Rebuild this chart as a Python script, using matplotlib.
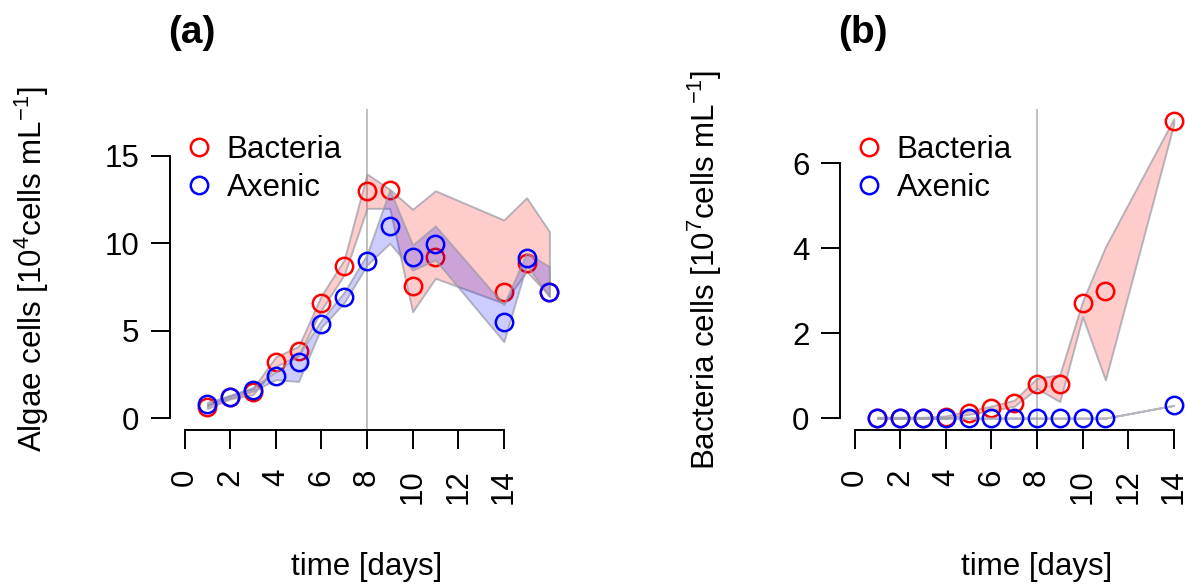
import matplotlib
matplotlib.use("Agg")
import matplotlib.pyplot as plt
from matplotlib.lines import Line2D

plt.rcParams['font.family'] = ['Liberation Sans', 'DejaVu Sans']
plt.rcParams['mathtext.fontset'] = 'custom'
plt.rcParams['mathtext.rm'] = 'Liberation Sans'
plt.rcParams['mathtext.it'] = 'Liberation Sans:italic'
plt.rcParams['mathtext.bf'] = 'Liberation Sans:bold'

# ---- data ----
# (a) algae cells [10^4 cells/mL]
days_a = [1, 2, 3, 4, 5, 6, 7, 8, 9, 10, 11, 14, 15, 16]
algae_bact = [0.66, 1.2, 1.52, 3.23, 3.85, 6.6, 8.72, 13.0, 13.05, 7.58, 9.2, 7.23, 8.9, 7.2]
algae_bact_hi = [0.75, 1.3, 1.7, 3.5, 4.1, 7.0, 9.05, 13.96, 13.08, 11.94, 13.0, 11.33, 12.6, 10.67]
algae_bact_lo = [0.55, 1.1, 1.35, 2.95, 3.6, 6.2, 8.2, 12.0, 12.0, 6.09, 8.0, 6.57, 8.4, 7.0]
algae_axen = [0.82, 1.23, 1.62, 2.42, 3.2, 5.39, 6.91, 9.0, 11.0, 9.2, 9.94, 5.52, 9.14, 7.2]
algae_axen_hi = [0.9, 1.3, 1.75, 2.65, 3.6, 5.6, 7.2, 9.35, 13.05, 9.9, 10.99, 6.48, 9.43, 8.67]
algae_axen_lo = [0.7, 1.15, 1.55, 2.2, 2.1, 5.2, 6.6, 8.76, 10.0, 8.47, 9.05, 4.38, 8.76, 6.95]

# (b) bacteria cells [10^7 cells/mL]
days_b = [1, 2, 3, 4, 5, 6, 7, 8, 9, 10, 11, 14]
bact_bact = [0, 0, 0, 0.02, 0.13, 0.23, 0.35, 0.8, 0.8, 2.7, 2.99, 6.99]
bact_bact_hi = [0.02, 0.02, 0.02, 0.05, 0.17, 0.28, 0.42, 0.94, 1.02, 2.75, 4.03, 7.05]
bact_bact_lo = [0, 0, 0, 0, 0.09, 0.18, 0.28, 0.7, 0.39, 2.39, 0.9, 6.93]
bact_axen = [0, 0, 0, 0, 0, 0, 0, 0, 0, 0, 0, 0.3]
bact_axen_hi = [0, 0, 0, 0, 0, 0, 0, 0, 0, 0, 0, 0.3]
bact_axen_lo = [0, 0, 0, 0, 0, 0, 0, 0, 0, 0, 0, 0.3]

xticks = [0, 2, 4, 6, 8, 10, 12, 14]
yticks_a = [0, 5, 10, 15]
yticks_b = [0, 2, 4, 6]

W, H = 1185, 584
fig = plt.figure(figsize=(W / 100, H / 100), dpi=100)

# plot regions in pixels (left, top, right, bottom); panel b runs off the right edge like the original
def add_ax(l, t, r, b):
    return fig.add_axes([l / W, 1 - b / H, (r - l) / W, (b - t) / H])

ax_a = add_ax(170, 109, 564, 430)
ax_b = add_ax(840, 109, 1234, 430)

red_fill = (1, 0, 0, 0.2)
blue_fill = (0, 0, 1, 0.2)
edge = (0.6, 0.6, 0.65, 0.7)
ms = 12.5
mew = 1.8
fs = 22.5


def panel(ax, days, b, b_hi, b_lo, a, a_hi, a_lo, ylim, yticks, ylab, xlab_y, ylab_x):
    ax.axvline(8, color='#BBBBBB', lw=1.3, zorder=0)
    ax.fill_between(days, b_lo, b_hi, facecolor=red_fill, edgecolor=edge, lw=1.4, zorder=1)
    ax.plot(days, b, ls='none', marker='o', mfc='none', mec='red', ms=ms, mew=mew, zorder=2)
    ax.fill_between(days, a_lo, a_hi, facecolor=blue_fill, edgecolor=edge, lw=1.4, zorder=3)
    ax.plot(days, a, ls='none', marker='o', mfc='none', mec='blue', ms=ms, mew=mew, zorder=4,
            clip_on=False)
    ax.set_xlim(-0.64, 16.64)
    ax.set_ylim(*ylim)
    for s in ['top', 'right']:
        ax.spines[s].set_visible(False)
    ax.spines['bottom'].set_bounds(xticks[0], xticks[-1])
    ax.spines['left'].set_bounds(yticks[0], yticks[-1])
    for s in ['bottom', 'left']:
        ax.spines[s].set_linewidth(1.4)
    ax.set_xticks(xticks)
    ax.set_yticks(yticks)
    ax.tick_params(axis='both', direction='out', length=14, width=1.4, labelsize=fs)
    ax.tick_params(axis='x', labelrotation=90, pad=14)
    ax.tick_params(axis='y', pad=8)
    ax.set_xlabel('time [days]', fontsize=fs)
    ax.xaxis.label.set_va('center')
    ax.xaxis.set_label_coords(0.5, xlab_y)
    ax.set_ylabel(ylab, fontsize=fs)
    ax.yaxis.label.set_va('center')
    ax.yaxis.set_label_coords(ylab_x, 0.5)


panel(ax_a, days_a, algae_bact, algae_bact_hi, algae_bact_lo,
      algae_axen, algae_axen_hi, algae_axen_lo, (-0.68, 17.68), yticks_a,
      'Algae cells [10$^4$cells mL$^{-1}$]', -0.427, -0.35)
panel(ax_b, days_b, bact_bact, bact_bact_hi, bact_bact_lo,
      bact_axen, bact_axen_hi, bact_axen_lo, (-0.28, 7.28), yticks_b,
      'Bacteria cells [10$^7$cells mL$^{-1}$]', -0.427, -0.343)

handles = [Line2D([], [], ls='none', marker='o', mfc='none', mec='red', ms=ms, mew=mew),
           Line2D([], [], ls='none', marker='o', mfc='none', mec='blue', ms=ms, mew=mew)]
for ax, lx in [(ax_a, 183), (ax_b, 853)]:
    ax.legend(handles, ['Bacteria', 'Axenic'], loc='upper left',
              bbox_to_anchor=(lx / W, 1 - 135 / H), bbox_transform=fig.transFigure,
              frameon=False, borderpad=0, borderaxespad=0, handlelength=1.0,
              handletextpad=0.4, labelspacing=0.25, fontsize=fs)

fig.text(192 / W, 1 - 33 / H, '(a)', fontsize=28, fontweight='bold', ha='center', va='center')
fig.text(863 / W, 1 - 33 / H, '(b)', fontsize=28, fontweight='bold', ha='center', va='center')

fig.savefig('out.png', dpi=100)
